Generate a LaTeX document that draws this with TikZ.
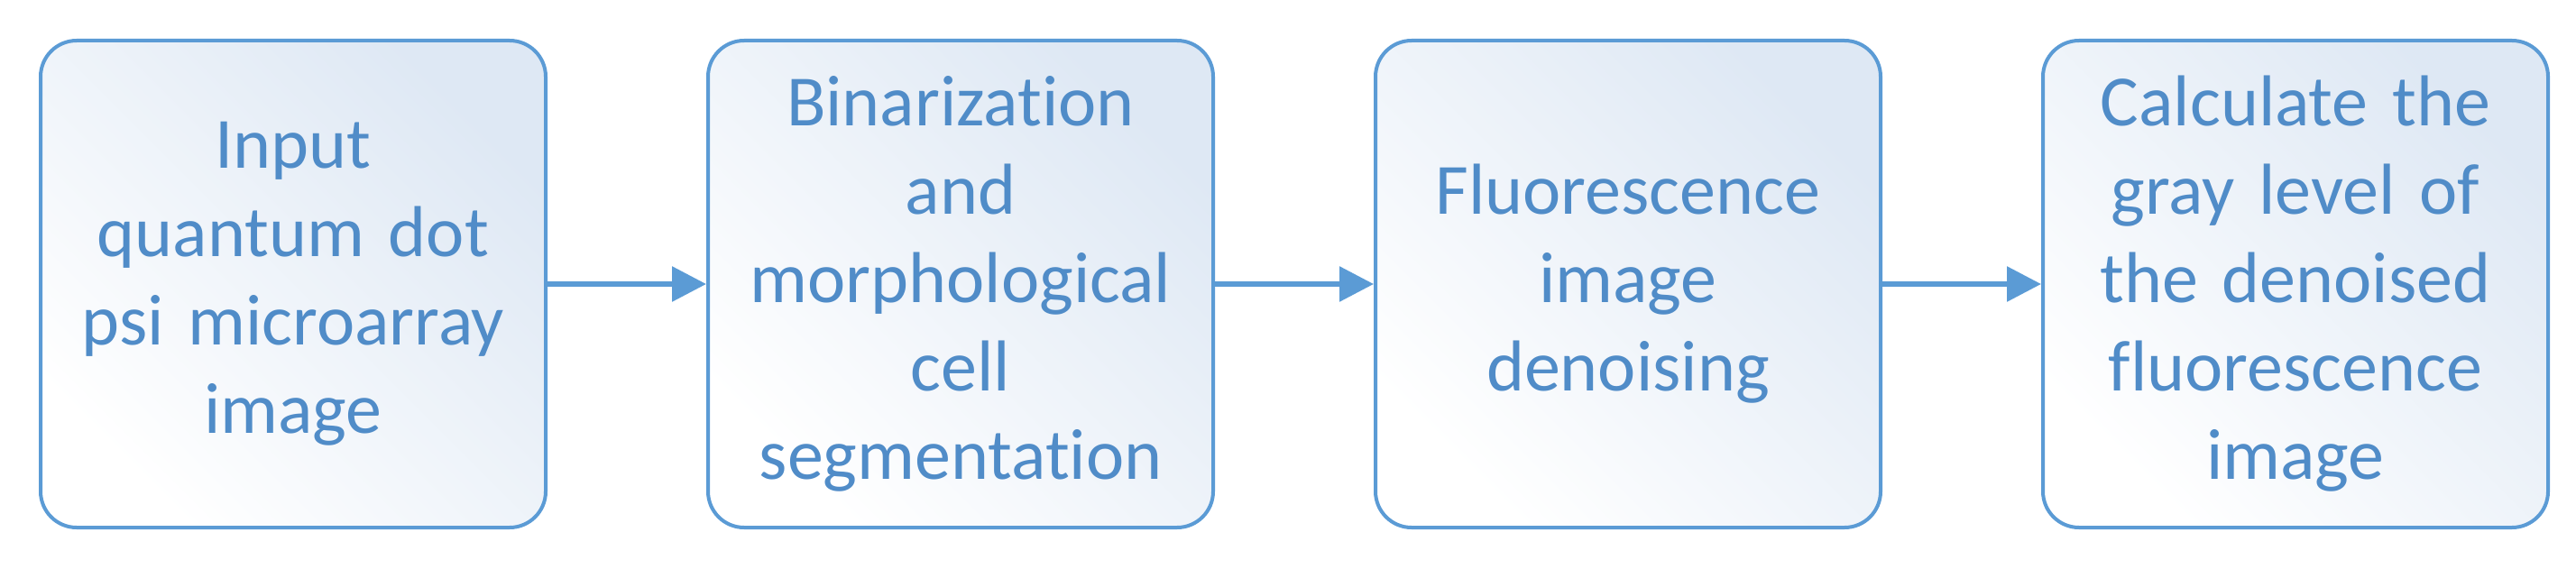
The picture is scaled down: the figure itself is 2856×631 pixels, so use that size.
\documentclass[tikz,border=0pt]{standalone}
\usepackage{fontspec}
\setmainfont{Carlito}[Ligatures={NoCommon,NoRequired,NoContextual}]
\usetikzlibrary{arrows.meta}
\definecolor{bl}{RGB}{91,155,213}
\definecolor{tx}{RGB}{80,140,200}
\definecolor{lt}{RGB}{222,232,244}
\begin{document}
\begin{tikzpicture}[x=1pt,y=-1pt,
 box/.style={draw=bl,line width=4pt,rounded corners=40pt,minimum width=560pt,minimum height=540pt,
  top color=lt,bottom color=white,shading angle=-45,text=tx,align=center,text width=550pt,
  font=\fontsize{80}{98}\selectfont},
 arr/.style={draw=bl,line width=6pt,-{Triangle[length=38pt,width=38pt]}}]
\useasboundingbox (0,0) rectangle (2856,631);
\node[box] (a) at (325,315) {Input\\quantum dot\\psi microarray\\image};
\node[box] (b) at (1065,315) {Binarization\\and\\morphological\\cell\\segmentation};
\node[box] (c) at (1805,315) {Fluorescence\\image\\denoising};
\node[box] (d) at (2545,315) {Calculate the\\gray level of\\the denoised\\fluorescence\\image};
\draw[arr] (a) -- (b);
\draw[arr] (b) -- (c);
\draw[arr] (c) -- (d);
\end{tikzpicture}
\end{document}
